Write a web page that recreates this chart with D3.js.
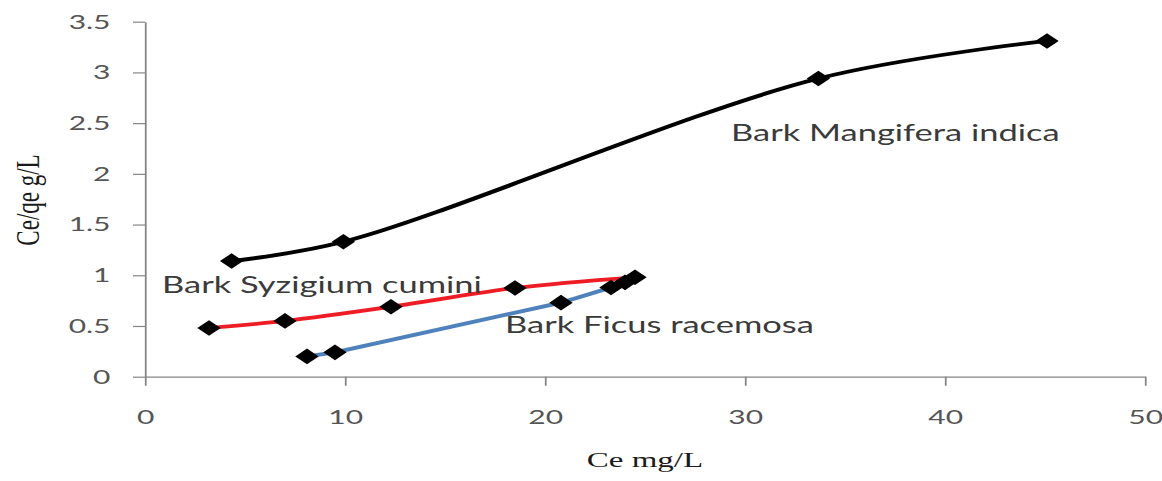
<!DOCTYPE html>
<html>
<head>
<meta charset="utf-8">
<script src="https://cdn.jsdelivr.net/npm/d3@7"></script>
<style>
  html, body { margin: 0; padding: 0; background: #fff; overflow: hidden; }
  .tick text { font-family: Lato, "Open Sans", sans-serif; font-size: 20px; fill: #555; }
  .label { font-family: Lato, "Open Sans", sans-serif; font-size: 23px; fill: #3a3a3a; }
  .title { font-family: "Liberation Serif", "DejaVu Serif", serif; font-size: 22px; fill: #1a1a1a; }
</style>
</head>
<body>
<div id="chart"></div>
<script>
// series data (Ce mg/L, Ce/qe g/L)
var mangiferaX = [4.33, 9.92, 33.67, 45.1];
var mangiferaY = [1.14, 1.33, 2.94, 3.31];

var syzigiumX = [3.2, 7.0, 12.3, 18.5, 24.5];
var syzigiumY = [0.48, 0.55, 0.69, 0.875, 0.98];

var ficusX = [8.1, 9.5, 20.8, 23.3, 24.0];
var ficusY = [0.20, 0.24, 0.73, 0.88, 0.93];

var xTicks = [0, 10, 20, 30, 40, 50];
var yTicks = [0, 0.5, 1, 1.5, 2, 2.5, 3, 3.5];

var seriesNames = ["Bark Mangifera indica", "Bark Syzigium cumini", "Bark Ficus racemosa"];

var width = 1162,
    height = 481,
    stretch = 1.5,            // the original figure is stretched sideways
    vbW = width / stretch;

var svg = d3.select("#chart").append("svg")
    .attr("width", width)
    .attr("height", height)
    .attr("viewBox", "0 0 " + vbW + " " + height)
    .attr("preserveAspectRatio", "none");

svg.append("rect").attr("width", vbW).attr("height", height).attr("fill", "#fff");

var x = d3.scaleLinear().domain([0, 50]).range([145 / stretch, 1145 / stretch]);
var y = d3.scaleLinear().domain([0, 3.5]).range([376.7, 21.7]);

svg.append("g")
    .attr("transform", "translate(0," + y(0) + ")")
    .call(d3.axisBottom(x).tickValues(xTicks).tickSize(9).tickSizeOuter(0).tickPadding(24)
      .tickFormat(d3.format("d")));

svg.append("g")
    .attr("transform", "translate(" + x(0) + ",0)")
    .call(d3.axisLeft(y).tickValues(yTicks).tickSize(8).tickSizeOuter(0).tickPadding(15)
      .tickFormat(function(d) { return d; }));

svg.selectAll(".domain").attr("stroke", "#868686").attr("stroke-width", 1.2);
svg.selectAll(".tick line").attr("stroke", "#868686").attr("stroke-width", 1.2);

// axis titles
svg.append("text")
    .attr("class", "title")
    .attr("x", (x(0) + x(50)) / 2)
    .attr("y", 467)
    .attr("text-anchor", "middle")
    .text("Ce mg/L");

svg.append("text")
    .attr("class", "title")
    .attr("transform", "translate(26,200) rotate(-90)")
    .attr("text-anchor", "middle")
    .style("font-size", "23px")
    .text("Ce/qe g/L");

var series = [
  { xs: syzigiumX, ys: syzigiumY, color: "#ee1c25", curve: d3.curveCatmullRom.alpha(0.5) },
  { xs: ficusX, ys: ficusY, color: "#4f81bd", curve: d3.curveLinear },
  { xs: mangiferaX, ys: mangiferaY, color: "#000000", curve: d3.curveCatmullRom.alpha(0.5) }
];

series.forEach(function(s) {
  var pts = s.xs.map(function(v, i) { return [v, s.ys[i]]; });
  var line = d3.line()
      .x(function(d) { return x(d[0]); })
      .y(function(d) { return y(d[1]); })
      .curve(s.curve);
  svg.append("path")
    .datum(pts)
    .attr("d", line)
    .attr("fill", "none")
    .attr("stroke", s.color)
    .attr("stroke-width", 3.8)
    .attr("stroke-linecap", "round");
});

var diamond = d3.symbol().type(d3.symbolDiamond2).size(155);

series.forEach(function(s) {
  var pts = s.xs.map(function(v, i) { return [v, s.ys[i]]; });
  svg.append("g").selectAll("path")
    .data(pts)
    .enter()
    .append("path")
    .attr("d", diamond)
    .attr("transform", function(d) { return "translate(" + x(d[0]) + "," + y(d[1]) + ")"; })
    .attr("fill", "#000");
});

// series labels
var labelPos = [[29.3, 2.32], [0.85, 0.825], [18.0, 0.43]];
svg.selectAll(".label")
    .data(seriesNames)
    .enter()
    .append("text")
    .attr("class", "label")
    .attr("x", function(d, i) { return x(labelPos[i][0]); })
    .attr("y", function(d, i) { return y(labelPos[i][1]); })
    .text(function(d) { return d; });
</script>
</body>
</html>
